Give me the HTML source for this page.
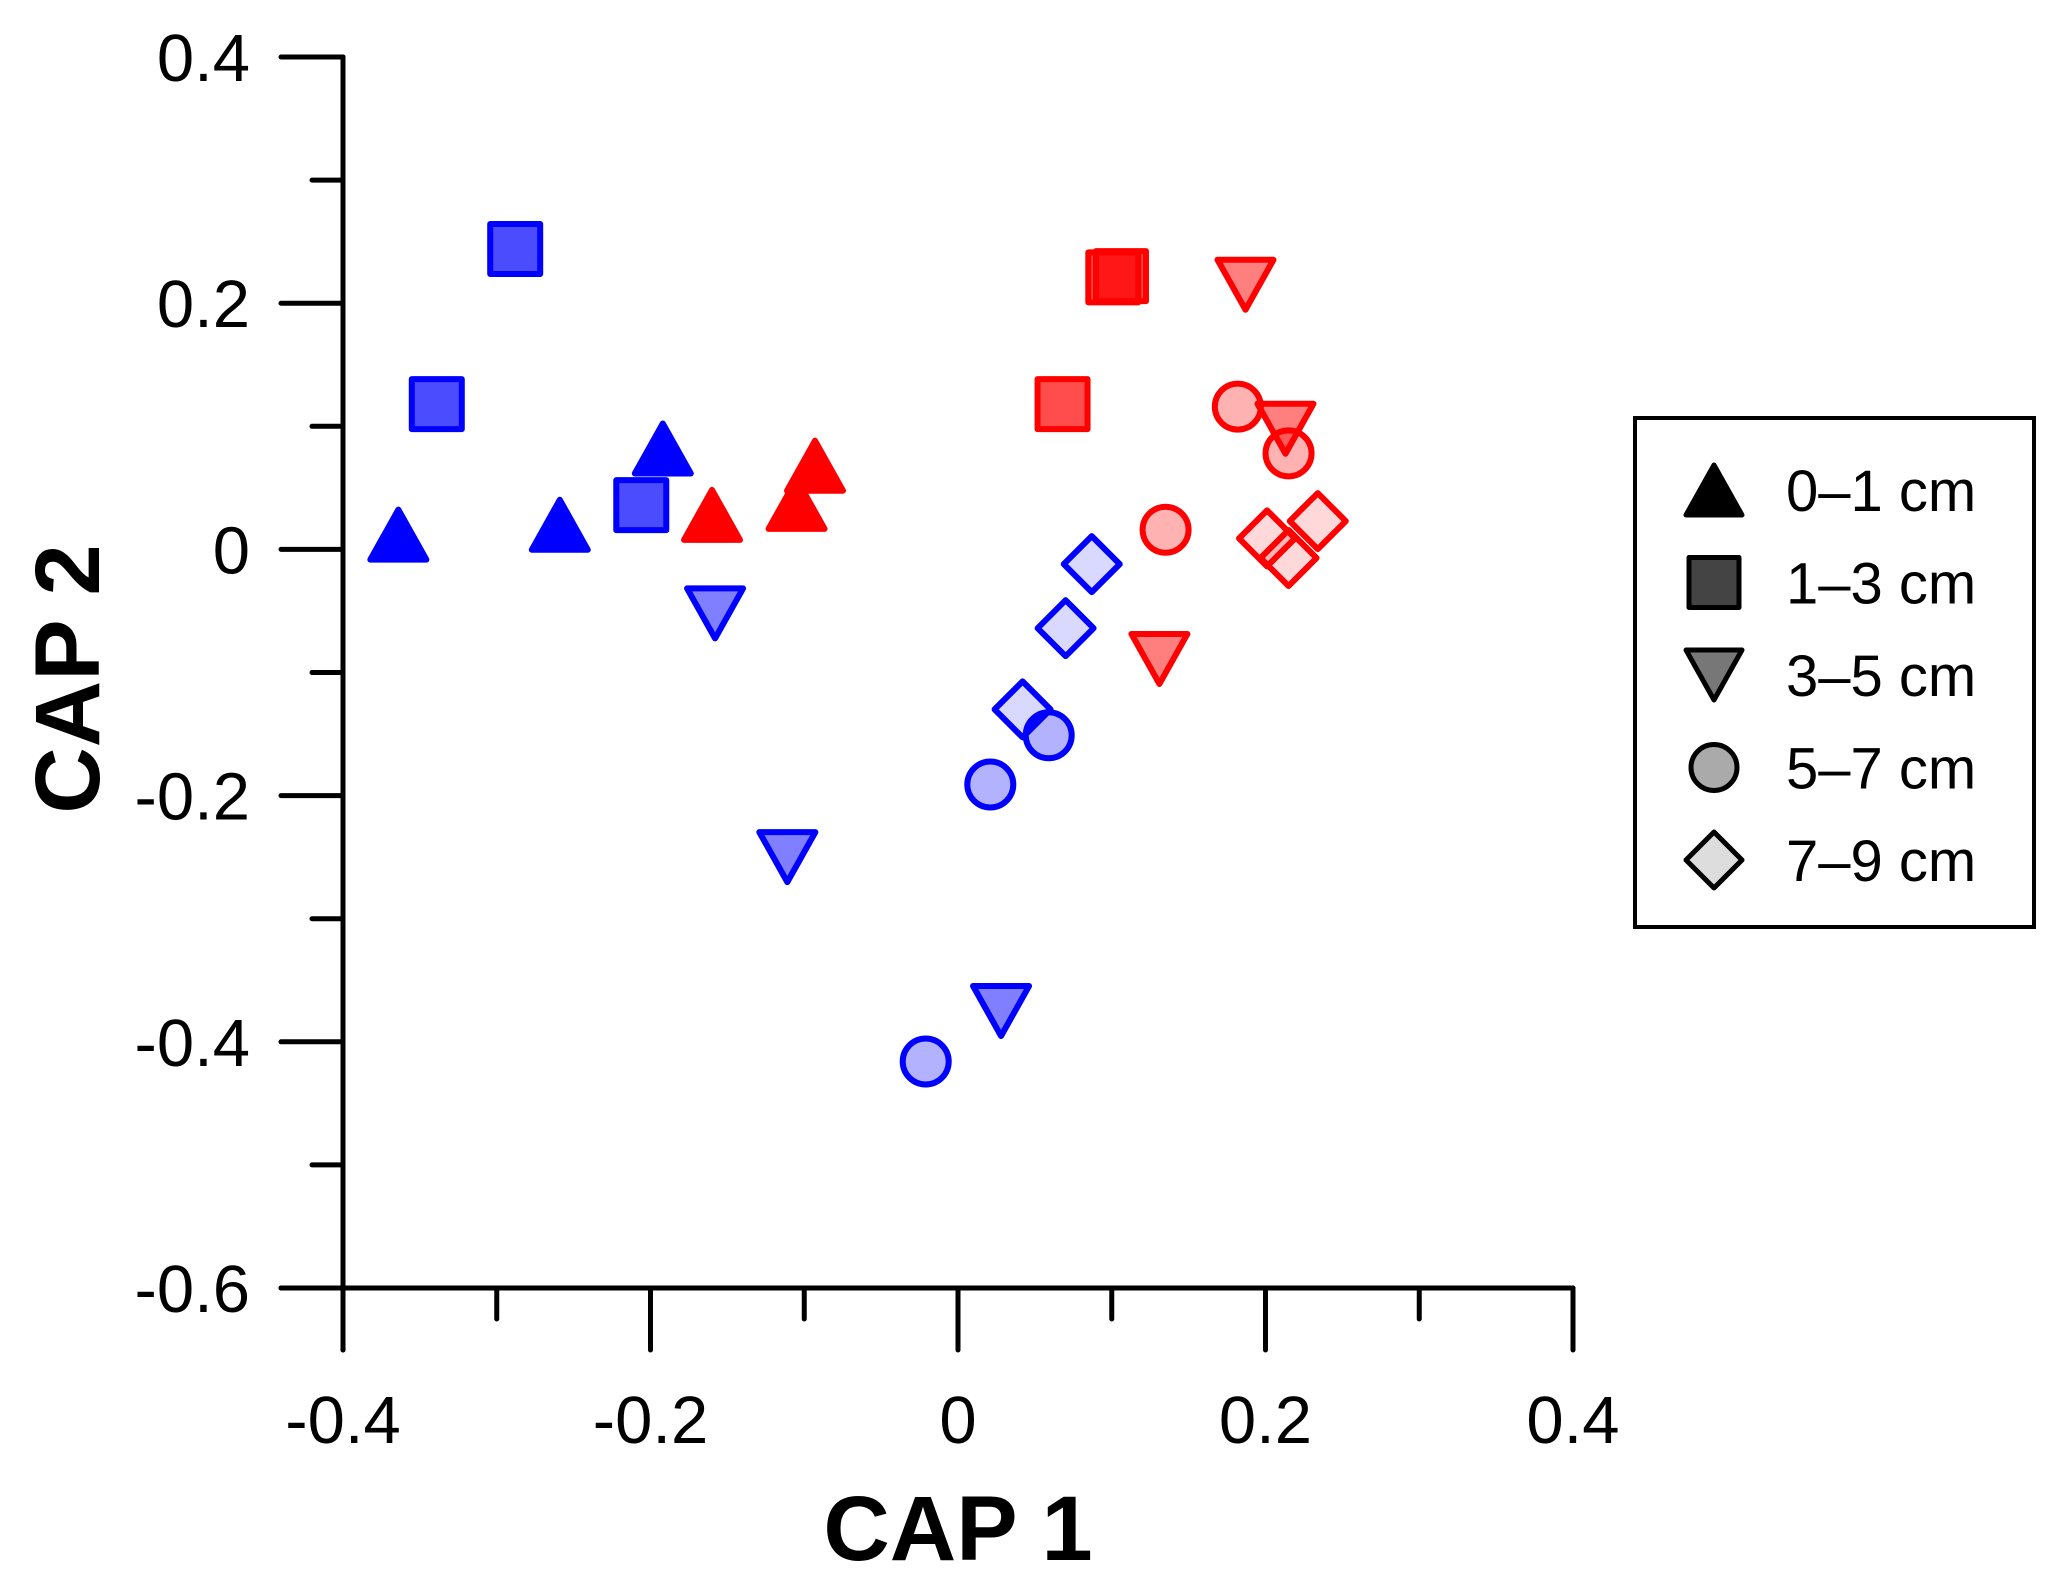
<!DOCTYPE html>
<html><head><meta charset="utf-8"><style>
html,body{margin:0;padding:0;background:#fff;}
svg{display:block;}
text{font-family:"Liberation Sans",Arial,sans-serif;}
</style></head><body>
<svg id="chart" width="2067" height="1589" viewBox="0 0 2067 1589" xmlns="http://www.w3.org/2000/svg">
<g id="axes"></g>
<g id="marks"></g>
<g id="legend"></g>
</svg>
<script>
const shapes = ["up","square","down","circle","diamond"];
const depthLabels = ["0–1 cm","1–3 cm","3–5 cm","5–7 cm","7–9 cm"];
const blueX = [[-0.364,-0.259,-0.192],[-0.288,-0.339,-0.206],[-0.158,-0.111,0.028],[0.021,0.059,-0.021],[0.087,0.070,0.042]];
const blueY = [[0.012,0.020,0.082],[0.244,0.118,0.036],[-0.052,-0.250,-0.375],[-0.191,-0.151,-0.416],[-0.012,-0.064,-0.130]];
const redX = [[-0.160,-0.105,-0.093],[0.101,0.106,0.068],[0.187,0.213,0.131],[0.182,0.215,0.135],[0.201,0.215,0.234]];
const redY = [[0.028,0.037,0.068],[0.221,0.222,0.118],[0.215,0.098,-0.089],[0.116,0.078,0.016],[0.009,-0.007,0.023]];
const xTicks = [-0.4,-0.2,0,0.2,0.4];
const xTickLabels = ["-0.4","-0.2","0","0.2","0.4"];
const yTicks = [0.4,0.2,0,-0.2,-0.4,-0.6];
const yTickLabels = ["0.4","0.2","0","-0.2","-0.4","-0.6"];

const NS="http://www.w3.org/2000/svg";
const X0=343,X1=1573,Y0=1288,Y1=57;
const xs=v=>X0+(v+0.4)/0.8*(X1-X0);
const ys=v=>Y0-(v+0.6)/1.0*(Y0-Y1);
function mk(tag,attrs,parent){const e=document.createElementNS(NS,tag);for(const k in attrs)e.setAttribute(k,attrs[k]);parent.appendChild(e);return e;}
const axes=document.getElementById('axes');
const st={stroke:"#000","stroke-width":5,"stroke-linecap":"round"};
let l=mk('line',Object.assign({x1:X0,y1:Y1,x2:X0,y2:Y0+62},st),axes);


l=mk('line',Object.assign({x1:X0-62,y1:Y0,x2:X1,y2:Y0},st),axes);


for(let i=0;i<=8;i++){const v=-0.4+i*0.1;const x=xs(v);const len=(i%2==0)?62:31;
 l=mk('line',Object.assign({x1:x,y1:Y0,x2:x,y2:Y0+len},st),axes);
 
 }
for(let i=0;i<=10;i++){const v=-0.6+i*0.1;const y=ys(v);const len=(i%2==0)?62:31;
 l=mk('line',Object.assign({x1:X0-len,y1:y,x2:X0,y2:y},st),axes);
 
 }
xTicks.forEach((v,i)=>{const t=mk('text',{x:xs(v),y:1443,"text-anchor":"middle","font-size":67},axes);t.textContent=xTickLabels[i];
 
 });
yTicks.forEach((v,i)=>{const t=mk('text',{x:250,y:ys(v)+24,"text-anchor":"end","font-size":67},axes);t.textContent=yTickLabels[i];
 
 });
let t=mk('text',{x:958,y:1560,"text-anchor":"middle","font-size":92,"font-weight":"bold"},axes);t.textContent="CAP 1";


t=mk('text',{x:0,y:0,"text-anchor":"middle","font-size":92,"font-weight":"bold",transform:"translate(99,679) rotate(-90)"},axes);t.textContent="CAP 2";



function drawShape(shape,cx,cy,fill,stroke,parent,scale){
 const s=scale||1;let e;
 if(shape=="square"){const h=25*s;e=mk('rect',{x:cx-h,y:cy-h,width:2*h,height:2*h},parent);}
 else if(shape=="circle"){e=mk('circle',{cx:cx,cy:cy,r:23*s},parent);}
 else if(shape=="up"){const w=28*s,h=25*s;e=mk('polygon',{points:`${cx},${cy-h} ${cx+w},${cy+h} ${cx-w},${cy+h}`},parent);}
 else if(shape=="down"){const w=28*s,h=25*s;e=mk('polygon',{points:`${cx-w},${cy-h} ${cx+w},${cy-h} ${cx},${cy+h}`},parent);}
 else {const r=28*s;e=mk('polygon',{points:`${cx},${cy-r} ${cx+r},${cy} ${cx},${cy+r} ${cx-r},${cy}`},parent);}
 e.setAttribute('fill',fill);e.setAttribute('stroke',stroke);e.setAttribute('stroke-width',6);e.setAttribute('stroke-linejoin','round');
 return e;}
const alphas=[1,0.7,0.5,0.3,0.15];
const marks=document.getElementById('marks');
function series(X,Y,rgb,col,name){
 X.forEach((arr,si)=>arr.forEach((v,j)=>{
  const e=drawShape(shapes[si],xs(v),ys(Y[si][j]),`rgba(${rgb},${alphas[si]})`,col,marks);
  
  
 }));}
series(blueX,blueY,"0,0,255","#0000ff","blue");
series(redX,redY,"255,0,0","#ff0000","red");

const lg=document.getElementById('legend');
const box=mk('rect',{x:1635,y:418,width:399,height:509,fill:"#fff",stroke:"#000","stroke-width":4},lg);


const lfill=["#000","#444","#777","#aaa","#ddd"];
depthLabels.forEach((lab,i)=>{const y=490+i*92.5;
 const e=drawShape(shapes[i],1714,y,lfill[i],"#000",lg,1);
 e.setAttribute('stroke-width',5);
 
 
 const tx=mk('text',{x:1786,y:y+21,"font-size":58},lg);tx.textContent=lab;
 
 });
</script>
</body></html>
